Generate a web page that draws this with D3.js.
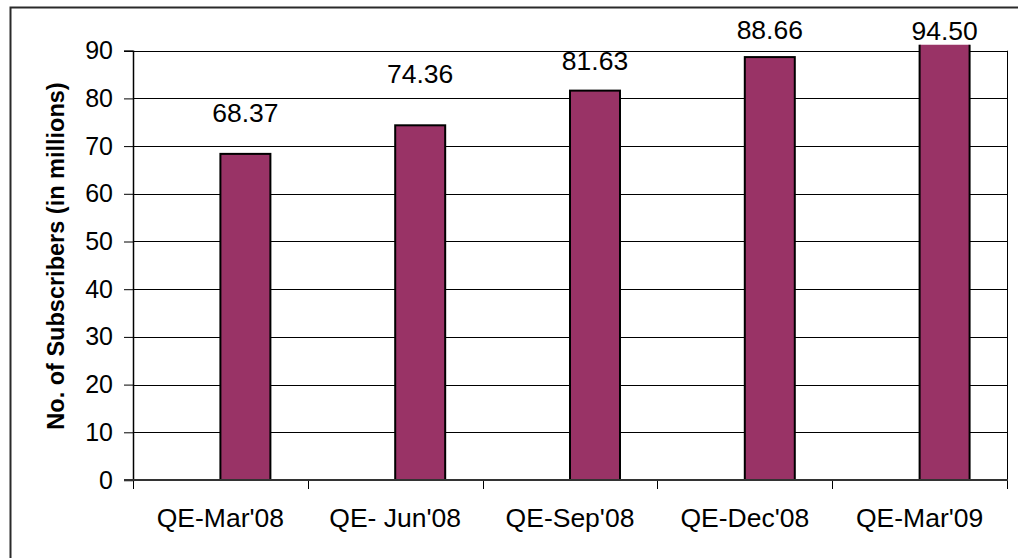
<!DOCTYPE html>
<html>
<head>
<meta charset="utf-8">
<script src="https://cdn.jsdelivr.net/npm/d3@7"></script>
<style>
  body { margin: 0; background: #fff; }
  text { font-family: "Liberation Sans", Arial, sans-serif; fill: #000; }
</style>
</head>
<body>
<script>
// quarters and subscriber counts (millions)
var quarters = ["QE-Mar'08", "QE- Jun'08", "QE-Sep'08", "QE-Dec'08", "QE-Mar'09"]
var subscribers = [68.37, 74.36, 81.63, 88.66, 94.50]
// where each value label sits, in axis units (labels were placed by hand)
var labelLevel = [75.1, 83.3, 86.0, 92.5, 92.3]
var yTicks = [0, 10, 20, 30, 40, 50, 60, 70, 80, 90]
var yTitle = "No. of Subscribers (in millions)"

var width = 1018
var height = 558
var plot = { left: 133, right: 1007, top: 50.7, bottom: 480 }

var svg = d3.select("body").append("svg")
            .attr("width", width)
            .attr("height", height)

// outer frame, only top and left fall inside the picture
svg.append("rect")
   .attr("x", 10.5).attr("y", 7.5)
   .attr("width", 1030).attr("height", 570)
   .attr("fill", "none")
   .attr("stroke", "#2a2a2a")
   .attr("stroke-width", 2)

var x = d3.scaleBand()
          .domain(quarters)
          .range([plot.left, plot.right])
var y = d3.scaleLinear()
          .domain([0, 90])
          .range([plot.bottom, plot.top])

// gridlines
svg.append("g")
   .selectAll("line")
   .data(yTicks.filter(function(d){ return d > 0 }))
   .join("line")
   .attr("x1", plot.left).attr("x2", plot.right)
   .attr("y1", function(d){ return Math.round(y(d)) + 0.5 })
   .attr("y2", function(d){ return Math.round(y(d)) + 0.5 })
   .attr("stroke", "#000")
   .attr("stroke-width", 1)

// right edge of plot area
svg.append("line")
   .attr("x1", plot.right + 0.5).attr("x2", plot.right + 0.5)
   .attr("y1", y(90)).attr("y2", plot.bottom)
   .attr("stroke", "#000")

// bars get clipped a little above the top of the axis (the last one overshoots)
svg.append("clipPath").attr("id", "clip")
   .append("rect")
   .attr("x", plot.left).attr("y", y(90) - 6)
   .attr("width", plot.right - plot.left)
   .attr("height", plot.bottom - y(90) + 6)

var barW = x.bandwidth() * 0.286
var data = quarters.map(function(q, i){
  return { q: q, v: subscribers[i], lab: labelLevel[i] }
})

svg.append("g")
   .attr("clip-path", "url(#clip)")
   .selectAll("rect")
   .data(data)
   .join("rect")
   .attr("x", function(d){ return x(d.q) + x.bandwidth() / 2 })
   .attr("y", function(d){ return y(d.v) })
   .attr("width", barW)
   .attr("height", function(d){ return plot.bottom - y(d.v) })
   .attr("fill", "#993366")
   .attr("stroke", "#000")
   .attr("stroke-width", 2)

// value labels
svg.append("g")
   .selectAll("text")
   .data(data)
   .join("text")
   .attr("x", function(d){ return x(d.q) + x.bandwidth() / 2 + barW / 2 })
   .attr("y", function(d){ return y(d.lab) })
   .attr("text-anchor", "middle")
   .style("font-size", "26.5px")
   .text(function(d){ return d.v.toFixed(2) })

// y axis
var yAxis = svg.append("g")
   .attr("transform", "translate(" + plot.left + ",0)")
   .call(d3.axisLeft(y).tickValues(yTicks).tickSize(9).tickPadding(11).tickFormat(d3.format("d")))
yAxis.select(".domain").attr("stroke", "#000").attr("stroke-width", 1.5)
yAxis.selectAll(".tick line").attr("stroke", "#000")
yAxis.selectAll("text")
     .style("font-size", "25px")
     .style("font-family", "'Liberation Sans', Arial, sans-serif")
     .attr("fill", "#000")

// x axis: labels under the centers, ticks on the category edges
var xAxis = svg.append("g")
   .attr("transform", "translate(0," + plot.bottom + ")")
   .call(d3.axisBottom(x).tickSize(0).tickPadding(28))
xAxis.select(".domain").remove()
xAxis.selectAll("text")
     .style("font-size", "26.5px")
     .style("font-family", "'Liberation Sans', Arial, sans-serif")
     .attr("fill", "#000")

var edges = quarters.map(function(q){ return x(q) }).concat([plot.right])
svg.append("g")
   .selectAll("line")
   .data(edges)
   .join("line")
   .attr("x1", function(d){ return Math.round(d) + 0.5 })
   .attr("x2", function(d){ return Math.round(d) + 0.5 })
   .attr("y1", plot.bottom).attr("y2", plot.bottom + 9)
   .attr("stroke", "#000")

svg.append("line")
   .attr("x1", plot.left - 9).attr("x2", plot.right + 1)
   .attr("y1", plot.bottom).attr("y2", plot.bottom)
   .attr("stroke", "#333")
   .attr("stroke-width", 2)

// axis title
svg.append("text")
   .attr("transform", "translate(64,256) rotate(-90)")
   .attr("text-anchor", "middle")
   .style("font-size", "23.5px")
   .style("font-weight", "bold")
   .text(yTitle)
</script>
</body>
</html>
